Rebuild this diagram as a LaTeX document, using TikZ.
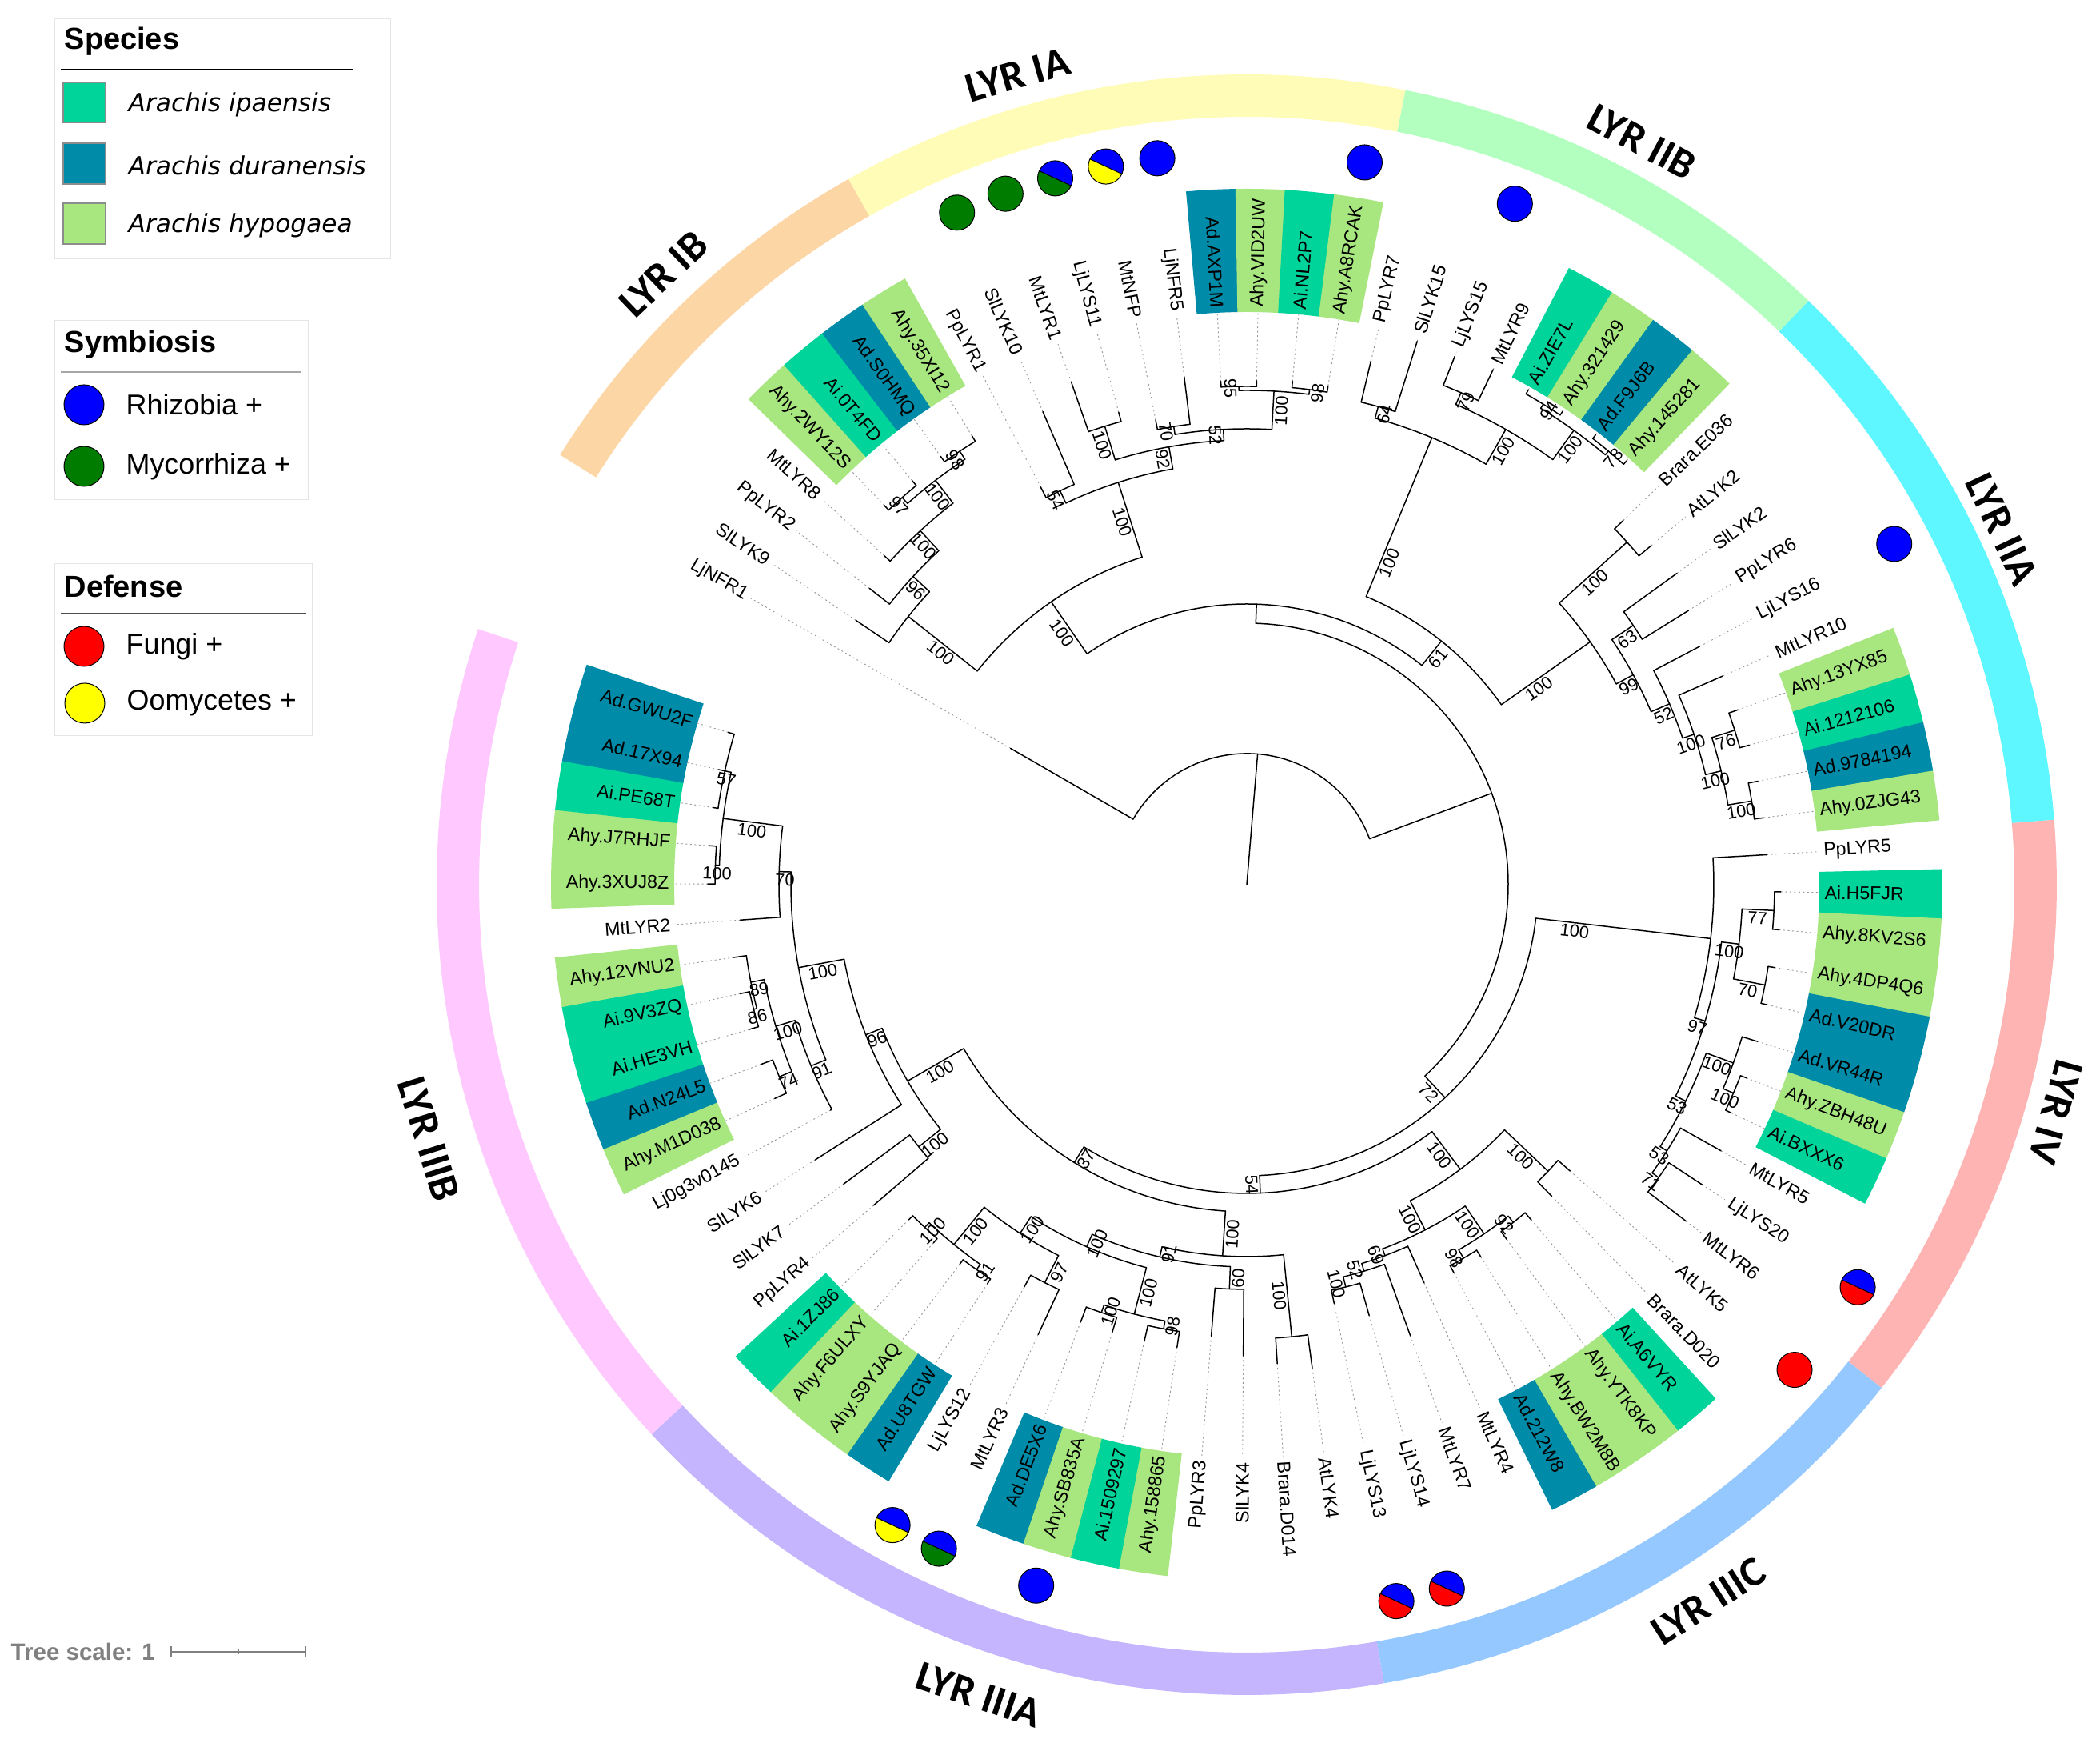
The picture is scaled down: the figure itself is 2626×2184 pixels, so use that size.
\documentclass[tikz,border=0pt]{standalone}
\usepackage{fontspec}
\setmainfont{Liberation Sans}
\newfontfamily\dejavu{DejaVu Sans}
\newfontfamily\carlito{Carlito}
\definecolor{cI}{RGB}{0,212,154}
\definecolor{cD}{RGB}{0,139,168}
\definecolor{cH}{RGB}{168,230,128}
\definecolor{bIB}{RGB}{253,214,165}
\definecolor{bIA}{RGB}{255,252,184}
\definecolor{bIIB}{RGB}{178,255,192}
\definecolor{bIIA}{RGB}{94,246,255}
\definecolor{bIV}{RGB}{255,180,180}
\definecolor{bIIIC}{RGB}{148,200,255}
\definecolor{bIIIA}{RGB}{196,181,254}
\definecolor{bIIIB}{RGB}{255,201,255}
\definecolor{cblue}{RGB}{0,0,255}
\definecolor{cgreen}{RGB}{0,125,0}
\definecolor{cred}{RGB}{255,0,0}
\definecolor{cyellow}{RGB}{255,255,0}
\tikzset{
  br/.style={line width=0.15mm, line cap=round, line join=round},
  lead/.style={draw=black!40, line width=0.09mm, dash pattern=on 0.2mm off 0.35mm},
  leaf/.style={font=\fontsize{6.6}{7}\selectfont, inner sep=0pt},
  bs/.style={font=\fontsize{6.2}{7}\selectfont, inner sep=0.6pt},
  bandlab/.style={font=\carlito\bfseries\fontsize{15}{18}\selectfont, inner sep=0pt},
  legtitle/.style={anchor=west, inner sep=0pt, font=\bfseries\fontsize{10.8}{12}\selectfont},
  legtext/.style={anchor=west, inner sep=0pt, font=\fontsize{10.2}{12}\selectfont},
  spectext/.style={anchor=west, inner sep=0pt, font=\dejavu\itshape\fontsize{8.9}{10}\selectfont},
  legbox/.style={draw=black!10, line width=0.1mm},
  dotline/.style={draw=black, line width=0.1mm}
}
\def\cnone{N}
% leaf: index, tip radius, label, box colour (N = none)
\newcommand\Lf[4]{%
  \pgfmathsetmacro\tA{150-4.075*#1}%
  \expandafter\let\csname angL#1\endcsname\tA
  \expandafter\def\csname radL#1\endcsname{#2}%
  \expandafter\let\csname bsvL#1\endcsname\empty
  \def\tC{#4}%
  \ifx\tC\cnone\else
    \pgfmathsetmacro\tP{\tA-2.06}\pgfmathsetmacro\tQ{\tA+2.06}%
    \fill[#4] (\tP:716) arc[start angle=\tP, end angle=\tQ, radius=716] -- (\tQ:870) arc[start angle=\tQ, end angle=\tP, radius=870] -- cycle;%
  \fi
  \draw[lead] (\tA:#2) -- (\tA:716);%
  \pgfmathtruncatemacro\tS{cos(\tA)>0 ? 1 : 0}%
  \ifnum\tS=1
    \node[leaf, rotate=\tA, anchor=west] at (\tA:722) {#3};%
  \else
    \pgfmathsetmacro\tRr{\tA+180}%
    \node[leaf, rotate=\tRr, anchor=east] at (\tA:722) {#3};%
  \fi}
% branch from parent radius #1 to child #2
\newcommand\Br[2]{%
  \edef\tA{\csname ang#2\endcsname}\edef\tR{\csname rad#2\endcsname}%
  \draw[br] (\tA:#1) -- (\tA:\tR);%
  \expandafter\ifx\csname bsv#2\endcsname\empty\else
    \pgfmathsetmacro\tL{#1+min(50,(\tR-#1)/2)}%
    \pgfmathsetmacro\tRot{cos(\tA)>0 ? \tA : \tA+180}%
    \node[bs, rotate=\tRot, anchor=north] at (\tA:\tL) {\csname bsv#2\endcsname};%
  \fi}
% internal node: name, radius, first child, last child, support
\newcommand\Nd[5]{%
  \expandafter\pgfmathsetmacro\csname ang#1\endcsname{(\csname ang#3\endcsname+\csname ang#4\endcsname)/2}%
  \expandafter\def\csname rad#1\endcsname{#2}%
  \expandafter\def\csname bsv#1\endcsname{#5}%
  \edef\tA{\csname ang#3\endcsname}\edef\tB{\csname ang#4\endcsname}%
  \draw[br] (\tA:#2) arc[start angle=\tA, end angle=\tB, radius=#2];%
  \Br{#2}{#3}\Br{#2}{#4}}
\newcommand\Band[3]{%
  \fill[#3] (#1:960) arc[start angle=#1, end angle=#2, radius=960] -- (#2:1013) arc[start angle=#2, end angle=#1, radius=1013] -- cycle;}
\newcommand\Cone[2]{%
  \pgfmathsetmacro\tA{150-4.075*#1}%
  \fill[#2] (\tA:915) circle[radius=22];
  \draw[dotline] (\tA:915) circle[radius=22];}
\newcommand\Ctwo[3]{%
  \pgfmathsetmacro\tA{150-4.075*#1}%
  \fill[#2] (\tA:915) ++(-25:22) arc[start angle=-25, end angle=155, radius=22] -- cycle;
  \fill[#3] (\tA:915) ++(155:22) arc[start angle=155, end angle=335, radius=22] -- cycle;
  \draw[dotline] (\tA:915) ++(-25:22) -- ++(155:44);
  \draw[dotline] (\tA:915) circle[radius=22];}
\begin{document}
\begin{tikzpicture}[x=0.1mm,y=0.1mm]
\useasboundingbox[fill=white] (0,0) rectangle (2626,2184);

% ---------------- legend ----------------
\draw[legbox] (68,1860) rectangle (488,2160);
\node[legtitle] (sp) at (80,2132) {Species};
\draw[line width=0.15mm] (76,2097) -- (441,2097);
\filldraw[fill=cI, draw=black!45, line width=0.12mm] (79,2031) rectangle (132,2081);
\filldraw[fill=cD, draw=black!45, line width=0.12mm] (79,1954) rectangle (132,2005);
\filldraw[fill=cH, draw=black!45, line width=0.12mm] (79,1879) rectangle (132,1930);
\node[spectext] (s1) at (160,2053) {Arachis ipaensis};
\node[spectext] (s2) at (160,1977) {Arachis duranensis};
\node[spectext] (s3) at (160,1902) {Arachis hypogaea};

\draw[legbox] (68,1559) rectangle (385,1783);
\node[legtitle] (sy) at (80,1753) {Symbiosis};
\draw[line width=0.15mm, black!35] (76,1719) -- (377,1719);
\filldraw[fill=cblue, dotline] (105,1678) circle[radius=25];
\filldraw[fill=cgreen, dotline] (105,1601) circle[radius=25];
\node[legtext] (t1) at (157,1678) {Rhizobia +};
\node[legtext] (t2) at (157,1601) {Mycorrhiza +};

\draw[legbox] (68,1264) rectangle (390,1479);
\node[legtitle] (df) at (80,1451) {Defense};
\draw[line width=0.15mm, black!70] (76,1417) -- (383,1417);
\filldraw[fill=cred, dotline] (105,1376) circle[radius=25];
\filldraw[fill=cyellow, dotline] (106,1305) circle[radius=25];
\node[legtext] (t3) at (157,1376) {Fungi +};
\node[legtext] (t4) at (158,1305) {Oomycetes +};

% tree scale
\node[anchor=west, inner sep=0pt, text=black!50, font=\bfseries\fontsize{8.4}{10}\selectfont] (ts) at (13,119) {Tree scale: 1};
\draw[black!50, line width=0.12mm] (214,119) -- (382,119);
\draw[black!50, line width=0.12mm] (214,112) -- (214,126) (382,112) -- (382,126) (298,116) -- (298,122);

% ---------------- tree ----------------
\begin{scope}[shift={(1559,1078)}]
% clade bands
\Band{147.96}{119.44}{bIB}
\Band{119.44}{78.69}{bIA}
\Band{78.69}{46.09}{bIIB}
\Band{46.09}{4.6}{bIIA}
\Band{4.6}{-38.4}{bIV}
\Band{-38.4}{-80.24}{bIIIC}
\Band{-80.24}{-137.29}{bIIIA}
\Band{-137.29}{-198.4}{bIIIB}
\node[bandlab, rotate=15.8] at (105.8:1052) {LYR IA};
\node[bandlab, rotate=43.7] at (133.7:1056) {LYR IB};
\node[bandlab, rotate=-28] at (62:1052) {LYR IIB};
\node[bandlab, rotate=-64.8] at (25.2:1044) {LYR IIA};
\node[bandlab, rotate=-105.7] at (-15.7:1051) {LYR IV};
\node[bandlab, rotate=32.8] at (-57.2:1066) {LYR IIIC};
\node[bandlab, rotate=-18.3] at (-108.3:1067) {LYR IIIA};
\node[bandlab, rotate=-72.7] at (-162.7:1071) {LYR IIIB};

% annotation circles
\Cone{9}{cgreen}
\Cone{10}{cgreen}
\Ctwo{11}{cblue}{cgreen}
\Ctwo{12}{cblue}{cyellow}
\Cone{13}{cblue}
\Cone{17}{cblue}
\Cone{20}{cblue}
\Cone{30}{cblue}
\Ctwo{45}{cblue}{cred}
\Cone{47}{cred}
\Ctwo{55}{cblue}{cred}
\Ctwo{56}{cblue}{cred}
\Cone{63}{cblue}
\Ctwo{65}{cblue}{cgreen}
\Ctwo{66}{cblue}{cyellow}

% leaves
\Lf{0}{341}{LjNFR1}{N}
\Lf{1}{590}{SlLYK9}{N}
\Lf{2}{600}{PpLYR2}{N}
\Lf{3}{612}{MtLYR8}{N}
\Lf{4}{656}{Ahy.2WY12S}{cH}
\Lf{5}{656}{Ai.0T4FD}{cI}
\Lf{6}{658}{Ad.S0HMQ}{cD}
\Lf{7}{658}{Ahy.35XI12}{cH}
\Lf{8}{560}{PpLYR1}{N}
\Lf{9}{644}{SlLYK10}{N}
\Lf{10}{665}{MtLYR1}{N}
\Lf{11}{612}{LjLYS11}{N}
\Lf{12}{592}{MtNFP}{N}
\Lf{13}{640}{LjNFR5}{N}
\Lf{14}{630}{Ad.AXP1M}{cD}
\Lf{15}{630}{Ahy.VID2UW}{cH}
\Lf{16}{632}{Ai.NL2P7}{cI}
\Lf{17}{632}{Ahy.A8RCAK}{cH}
\Lf{18}{673}{PpLYR7}{N}
\Lf{19}{712}{SlLYK15}{N}
\Lf{20}{710}{LjLYS15}{N}
\Lf{21}{714}{MtLYR9}{N}
\Lf{22}{712}{Ai.ZIE7L}{cI}
\Lf{23}{712}{Ahy.321429}{cH}
\Lf{24}{712}{Ad.F9J6B}{cD}
\Lf{25}{712}{Ahy.145281}{cH}
\Lf{26}{655}{Brara.E036}{N}
\Lf{27}{660}{AtLYK2}{N}
\Lf{28}{664}{SlLYK2}{N}
\Lf{29}{650}{PpLYR6}{N}
\Lf{30}{640}{LjLYS16}{N}
\Lf{31}{650}{MtLYR10}{N}
\Lf{32}{652}{Ahy.13YX85}{cH}
\Lf{33}{652}{Ai.1212106}{cI}
\Lf{34}{652}{Ad.9784194}{cD}
\Lf{35}{652}{Ahy.0ZJG43}{cH}
\Lf{36}{651}{PpLYR5}{N}
\Lf{37}{668}{Ai.H5FJR}{cI}
\Lf{38}{668}{Ahy.8KV2S6}{cH}
\Lf{39}{668}{Ahy.4DP4Q6}{cH}
\Lf{40}{668}{Ad.V20DR}{cD}
\Lf{41}{668}{Ad.VR44R}{cD}
\Lf{42}{670}{Ahy.ZBH48U}{cH}
\Lf{43}{670}{Ai.BXXX6}{cI}
\Lf{44}{680}{MtLYR5}{N}
\Lf{45}{682}{LjLYS20}{N}
\Lf{46}{692}{MtLYR6}{N}
\Lf{47}{540}{AtLYK5}{N}
\Lf{48}{545}{Brara.D020}{N}
\Lf{49}{550}{Ai.A6VYR}{cI}
\Lf{50}{550}{Ahy.YTK8KP}{cH}
\Lf{51}{550}{Ahy.BW2M8B}{cH}
\Lf{52}{550}{Ad.212W8}{cD}
\Lf{53}{545}{MtLYR4}{N}
\Lf{54}{600}{MtLYR7}{N}
\Lf{55}{560}{LjLYS14}{N}
\Lf{56}{535}{LjLYS13}{N}
\Lf{57}{610}{AtLYK4}{N}
\Lf{58}{600}{Brara.D014}{N}
\Lf{59}{589}{SlLYK4}{N}
\Lf{60}{566}{PpLYR3}{N}
\Lf{61}{585}{Ahy.158865}{cH}
\Lf{62}{585}{Ai.1509297}{cI}
\Lf{63}{585}{Ahy.SB835A}{cH}
\Lf{64}{585}{Ad.DE5X6}{cD}
\Lf{65}{620}{MtLYR3}{N}
\Lf{66}{575}{LjLYS12}{N}
\Lf{67}{595}{Ad.U8TGW}{cD}
\Lf{68}{595}{Ahy.S9YJAQ}{cH}
\Lf{69}{595}{Ahy.F6ULXY}{cH}
\Lf{70}{595}{Ai.1ZJ86}{cI}
\Lf{71}{615}{PpLYR4}{N}
\Lf{72}{628}{SlLYK7}{N}
\Lf{73}{640}{SlLYK6}{N}
\Lf{74}{592}{Lj0g3v0145}{N}
\Lf{75}{648}{Ahy.M1D038}{cH}
\Lf{76}{648}{Ad.N24L5}{cD}
\Lf{77}{648}{Ai.HE3VH}{cI}
\Lf{78}{648}{Ai.9V3ZQ}{cI}
\Lf{79}{648}{Ahy.12VNU2}{cH}
\Lf{80}{635}{MtLYR2}{N}
\Lf{81}{674}{Ahy.3XUJ8Z}{cH}
\Lf{82}{674}{Ahy.J7RHJF}{cH}
\Lf{83}{674}{Ai.PE68T}{cI}
\Lf{84}{676}{Ad.17X94}{cD}
\Lf{85}{676}{Ad.GWU2F}{cD}

% LYR IB
\Nd{N97ib}{648}{L4}{L5}{97}
\Nd{N98ib}{650}{L6}{L7}{98}
\Nd{N100c}{638}{N97ib}{N98ib}{100}
\Nd{N100b}{602}{L3}{N100c}{100}
\Nd{N96b}{568}{L2}{N100b}{96}
\Nd{NIB}{540}{L1}{N96b}{100}
% LYR IA
\Nd{N54ia}{545}{L8}{L9}{54}
\Nd{N100m}{600}{L10}{L11}{100}
\Nd{N70ia}{580}{L12}{L13}{70}
\Nd{N95}{623}{L14}{L15}{95}
\Nd{N98ia}{624}{L16}{L17}{98}
\Nd{N100A}{618}{N95}{N98ia}{100}
\Nd{N52ia}{570}{N70ia}{N100A}{52}
\Nd{N92}{556}{N100m}{N52ia}{92}
\Nd{NIA}{528}{N54ia}{N92}{100}
\Nd{NI}{430}{NIB}{NIA}{100}
% LYR IIB
\Nd{N64}{620}{L18}{L19}{64}
\Nd{N79}{671}{L20}{L21}{79}
\Nd{N94}{706}{L22}{L23}{94}
\Nd{N78}{706}{L24}{L25}{78}
\Nd{NArtwo}{700}{N94}{N78}{100}
\Nd{N100two}{655}{N79}{NArtwo}{100}
\Nd{NIIB}{605}{N64}{N100two}{100}
% LYR IIA
\Nd{NBA}{640}{L26}{L27}{100}
\Nd{N63}{582}{L28}{L29}{63}
\Nd{N76}{640}{L32}{L33}{76}
\Nd{N100z}{640}{L34}{L35}{100}
\Nd{NArA}{610}{N76}{N100z}{100}
\Nd{N100a}{590}{L31}{NArA}{100}
\Nd{N52a}{575}{L30}{N100a}{52}
\Nd{N99}{550}{N63}{N52a}{99}
\Nd{NIIA}{526}{NBA}{N99}{100}
\Nd{N61}{390}{NIIB}{NIIA}{61}
\Nd{NA}{351}{NI}{N61}{}
% LYR IV
\Nd{N77}{660}{L37}{L38}{77}
\Nd{N70iv}{660}{L39}{L40}{70}
\Nd{NAfour}{620}{N77}{N70iv}{100}
\Nd{NBtwo}{662}{L42}{L43}{100}
\Nd{NBthree}{648}{L41}{NBtwo}{100}
\Nd{N71}{632}{L45}{L46}{71}
\Nd{N53b}{622}{L44}{N71}{53}
\Nd{N53a}{612}{NBthree}{N53b}{53}
\Nd{N97iv}{598}{NAfour}{N53a}{97}
\Nd{NIV}{584}{L36}{N97iv}{100}
% LYR IIIC
\Nd{N100y}{520}{L47}{L48}{100}
\Nd{N92c}{538}{L49}{L50}{92}
\Nd{N98c}{540}{L51}{L52}{98}
\Nd{NArthree}{528}{N92c}{N98c}{100}
\Nd{N100t}{518}{L55}{L56}{100}
\Nd{N52c}{505}{L54}{N100t}{52}
\Nd{N69}{495}{L53}{N52c}{69}
\Nd{N100x}{486}{NArthree}{N69}{100}
\Nd{NIIIC}{445}{N100y}{N100x}{100}
% LYR IIIA
\Nd{N100s}{568}{L57}{L58}{100}
\Nd{N60}{506}{L59}{L60}{60}
\Nd{N98d}{565}{L61}{L62}{98}
\Nd{N100o}{565}{L63}{L64}{100}
\Nd{NArfour}{555}{N98d}{N100o}{100}
\Nd{N97x}{558}{L65}{L66}{97}
\Nd{N91c}{588}{L67}{L68}{91}
\Nd{N100f}{588}{L69}{L70}{100}
\Nd{NArfive}{580}{N91c}{N100f}{100}
\Nd{N100e}{520}{N97x}{NArfive}{100}
\Nd{N100q}{495}{NArfour}{N100e}{100}
\Nd{N91}{478}{N60}{N100q}{91}
\Nd{N100R}{465}{N100s}{N91}{100}
% LYR IIIB
\Nd{N100k}{525}{L71}{L72}{100}
\Nd{N86}{636}{L77}{L78}{86}
\Nd{N89}{632}{N86}{L79}{89}
\Nd{N74}{632}{L75}{L76}{74}
\Nd{N100i}{615}{N74}{N89}{100}
\Nd{N91b}{590}{L74}{N100i}{91}
\Nd{N57}{668}{L83}{L85}{57}
\Br{668}{L84}
\Nd{N100h}{665}{L81}{L82}{100}
\Nd{NP}{660}{N100h}{N57}{100}
\Nd{N100P}{585}{L80}{NP}{70}
\Nd{Na}{570}{N91b}{N100P}{100}
\Nd{N96}{512}{L73}{Na}{96}
\Nd{N100L}{490}{N100k}{N96}{100}
% backbone
\Nd{N97}{409}{N100R}{N100L}{37}
\Nd{N54}{386}{NIIIC}{N97}{54}
\Nd{N72}{364}{NIV}{N54}{72}
\Nd{R}{327}{NA}{N72}{}
\Nd{ROOT}{164}{L0}{R}{}
\edef\tA{\csname angROOT\endcsname}
\draw[br] (0,0) -- (\tA:164);
\end{scope}
\end{tikzpicture}
\end{document}
